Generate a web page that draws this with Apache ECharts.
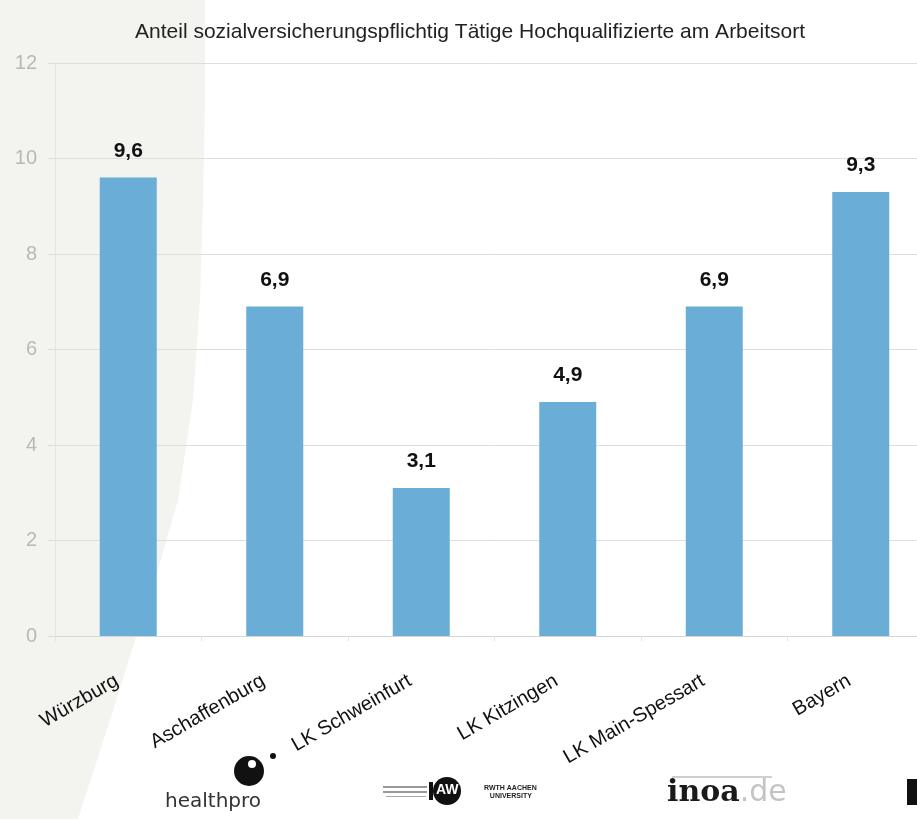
<!DOCTYPE html>
<html>
<head>
<meta charset="utf-8">
<script src="https://cdn.jsdelivr.net/npm/echarts@6/dist/echarts.min.js"></script>
<style>html,body{margin:0;padding:0;background:#fff;overflow:hidden}#c{width:934px;height:819px}</style>
</head>
<body>
<div id="c"></div>
<script>
const titleText = 'Anteil sozialversicherungspflichtig Tätige Hochqualifizierte am Arbeitsort';
const categories = ['Würzburg', 'Aschaffenburg', 'LK Schweinfurt', 'LK Kitzingen', 'LK Main-Spessart', 'Bayern'];
const values = [9.6, 6.9, 3.1, 4.9, 6.9, 9.3];
const yMin = 0, yMax = 12, yStep = 2;

const chart = echarts.init(document.getElementById('c'), null, {renderer: 'canvas'});
const FONT = '"Liberation Sans", Arial, sans-serif';
chart.setOption({
  backgroundColor: '#ffffff',
  animation: false,
  title: {
    text: titleText, left: 465, top: 17, textAlign: 'center',
    textStyle: {fontFamily: FONT, fontSize: 21, fontWeight: 'normal', color: '#222'}
  },
  grid: {left: 55, top: 63, right: 0, height: 573, containLabel: false},
  xAxis: {
    type: 'category', data: categories,
    axisLine: {show: true, lineStyle: {color: '#d6d6d6', width: 1}},
    axisTick: {show: true, length: 5, lineStyle: {color: '#e2e2e2'}},
    axisLabel: {rotate: 30, margin: 37, padding: [0, 13, 0, 0], interval: 0,
      fontFamily: FONT, fontSize: 20, color: '#111'}
  },
  yAxis: {
    type: 'value', min: yMin, max: yMax, interval: yStep,
    axisLine: {show: true, lineStyle: {color: '#e4e4e4'}},
    axisTick: {show: true, length: 7, lineStyle: {color: '#dcdcdc'}},
    splitLine: {show: true, lineStyle: {color: '#dedede', width: 1}},
    axisLabel: {margin: 18, fontFamily: FONT, fontSize: 20, color: '#b8b8b8'}
  },
  series: [{
    type: 'bar', data: values, barWidth: 57,
    itemStyle: {color: '#6aaed8'},
    label: {show: true, position: 'top', distance: 16,
      fontFamily: FONT, fontSize: 21, fontWeight: 'bold', color: '#111',
      formatter: p => String(p.value).replace('.', ',')}
  }],
  graphic: {elements: [
    {type: 'polygon', z: -10, silent: true,
      shape: {points: [[0,0],[205,0],[205,100],[203,200],[200,300],[193,400],[178,500],[155,580],[135,640],[110,720],[78,819],[0,819]]},
      style: {fill: '#f3f3ef'}},
    {type: 'circle', shape: {cx: 249, cy: 771, r: 15}, style: {fill: '#111'}},
    {type: 'circle', shape: {cx: 252, cy: 764, r: 4}, style: {fill: '#fff'}},
    {type: 'circle', shape: {cx: 273, cy: 756, r: 3}, style: {fill: '#111'}},
    {type: 'text', left: 165, top: 792, style: {text: 'healthpro', fontFamily: '"DejaVu Sans", sans-serif', fontSize: 20, fill: '#333'}},
    {type: 'rect', shape: {x: 383, y: 786, width: 44, height: 2}, style: {fill: '#999'}},
    {type: 'rect', shape: {x: 383, y: 791, width: 44, height: 2}, style: {fill: '#999'}},
    {type: 'rect', shape: {x: 386, y: 796, width: 40, height: 1}, style: {fill: '#aaa'}},
    {type: 'rect', shape: {x: 429, y: 782, width: 4, height: 18}, style: {fill: '#111'}},
    {type: 'circle', shape: {cx: 447, cy: 791, r: 14}, style: {fill: '#111'}},
    {type: 'text', left: 436, top: 783, style: {text: 'AW', fontFamily: FONT, fontSize: 14, fontWeight: 'bold', fill: '#fff'}},
    {type: 'text', left: 484, top: 784, style: {text: 'RWTH AACHEN\n   UNIVERSITY', fontFamily: FONT, fontSize: 7, fontWeight: 'bold', fill: '#222', lineHeight: 8}},
    {type: 'rect', shape: {x: 672, y: 776, width: 100, height: 2}, style: {fill: '#cfcfcf'}},
    {type: 'text', left: 667, top: 778, style: {
      text: '{a|inoa}{b|.de}',
      rich: {a: {fontFamily: '"DejaVu Serif", serif', fontWeight: 'bold', fontSize: 30, fill: '#1a1a1a'},
             b: {fontFamily: '"DejaVu Sans", sans-serif', fontSize: 30, fill: '#c4c4c4'}}}},
    {type: 'rect', shape: {x: 907, y: 779, width: 10, height: 26}, style: {fill: '#111'}}
  ]}
});
</script>
</body>
</html>
